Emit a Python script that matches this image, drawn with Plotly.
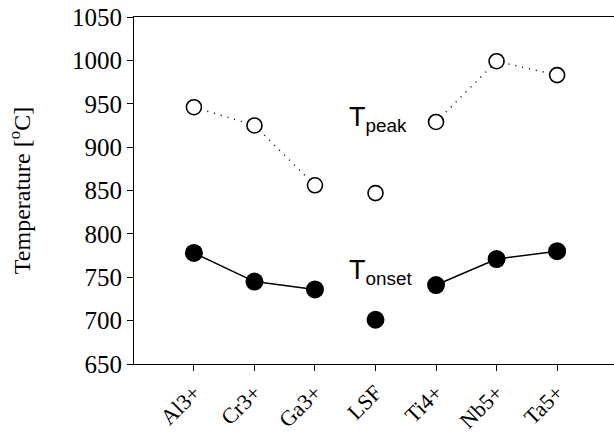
import plotly.graph_objects as go

categories = ["Al3+", "Cr3+", "Ga3+", "LSF", "Ti4+", "Nb5+", "Ta5+"]
t_peak = [946, 925, 856, 847, 929, 999, 983]
t_onset = [778, 745, 736, 701, 741, 771, 780]
y_ticks = [650, 700, 750, 800, 850, 900, 950, 1000, 1050]

# groups connected by lines (LSF stands alone)
groups = [[0, 1, 2], [4, 5, 6]]

fig = go.Figure()
xs = list(range(len(categories)))

for g in groups:
    fig.add_trace(go.Scatter(x=[xs[i] for i in g], y=[t_peak[i] for i in g], mode="lines",
                             line=dict(color="black", width=1.5, dash="1px,6px"),
                             showlegend=False, hoverinfo="skip"))
    fig.add_trace(go.Scatter(x=[xs[i] for i in g], y=[t_onset[i] for i in g], mode="lines",
                             line=dict(color="black", width=1.5),
                             showlegend=False, hoverinfo="skip"))

fig.add_trace(go.Scatter(x=xs, y=t_peak, mode="markers",
                         marker=dict(size=15, color="white", line=dict(color="black", width=1.6)),
                         showlegend=False))
fig.add_trace(go.Scatter(x=xs, y=t_onset, mode="markers",
                         marker=dict(size=18, color="black", line=dict(color="black", width=0)),
                         showlegend=False))

fig.add_annotation(x=2.53, y=932, xref="x", yref="y", xanchor="left", yanchor="middle",
                   text="T<sub>peak</sub>", showarrow=False,
                   font=dict(family="Liberation Sans, Arial", size=27, color="black"))
fig.add_annotation(x=2.53, y=756, xref="x", yref="y", xanchor="left", yanchor="middle",
                   text="T<sub>onset</sub>", showarrow=False,
                   font=dict(family="Liberation Sans, Arial", size=27, color="black"))

fig.update_layout(
    width=614, height=434,
    margin=dict(l=134, r=0, t=17, b=70),
    plot_bgcolor="white", paper_bgcolor="white",
    font=dict(family="Liberation Serif, Times New Roman", size=23, color="black"),
    xaxis=dict(range=[-0.99, 6.94], tickmode="array", tickvals=xs, ticktext=categories,
               tickangle=-45, ticks="outside", ticklen=6, tickcolor="black",
               showline=True, linecolor="black", linewidth=1, mirror=True,
               showgrid=False, zeroline=False, automargin=False,
               tickfont=dict(family="Liberation Serif, Times New Roman", size=22)),
    yaxis=dict(range=[650, 1050], tickmode="array", tickvals=y_ticks,
               ticks="outside", ticklen=6, tickcolor="black",
               showline=True, linecolor="black", linewidth=1, mirror=False,
               showgrid=False, zeroline=False, automargin=False,
               title=dict(text="Temperature [<sup>o</sup>C]", standoff=34,
                          font=dict(family="Liberation Serif, Times New Roman", size=24)),
               tickfont=dict(family="Liberation Serif, Times New Roman", size=25)),
)

fig.write_html("out.html")
